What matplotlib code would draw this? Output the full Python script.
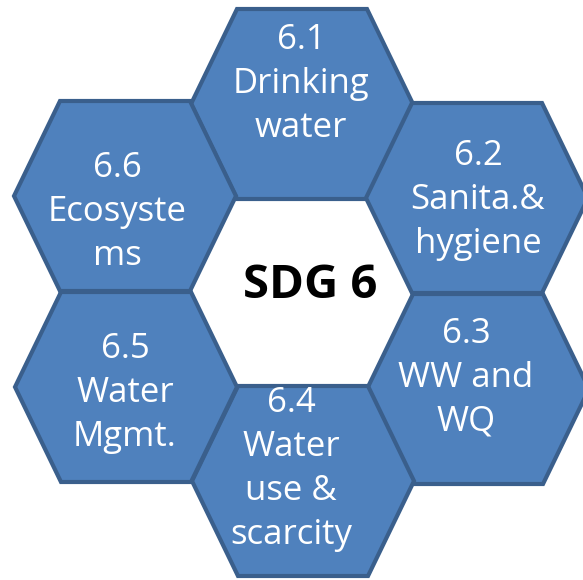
import matplotlib.pyplot as plt
from matplotlib.patches import Polygon

# Etiquetas de cada hexagono (metas del ODS 6)
codes = ['6.1', '6.2', '6.3', '6.4', '6.5', '6.6']
names = ['Drinking\nwater', 'Sanita.&\nhygiene', 'WW and\nWQ',
         'Water\nuse &\nscarcity', 'Water\nMgmt.', 'Ecosyste\nms']
center_label = 'SDG 6'

# Posicion de cada hexagono en pixeles (x, y desde arriba)
hex_centers = [(302, 104), (477, 198), (478, 389), (303, 481), (126, 387), (125, 196)]
text_centers = [(301, 84), (478, 200), (466, 378), (291, 469), (125, 393), (117, 212)]

fill_color = '#4F81BD'
edge_color = '#3A5F8C'

def hexagon(cx, cy, hw=111, ht=65, hh=95):
    return [(cx - hw, cy), (cx - ht, cy - hh), (cx + ht, cy - hh),
            (cx + hw, cy), (cx + ht, cy + hh), (cx - ht, cy + hh)]

fig = plt.figure(figsize=(5.83, 5.80), dpi=100)
ax = fig.add_axes([0, 0, 1, 1])
ax.set_xlim(0, 583)
ax.set_ylim(580, 0)
ax.axis('off')

for (cx, cy), (tx, ty), code, name in zip(hex_centers, text_centers, codes, names):
    ax.add_patch(Polygon(hexagon(cx, cy), closed=True, facecolor=fill_color,
                         edgecolor=edge_color, linewidth=3, joinstyle='miter'))
    ax.text(tx, ty, code + '\n' + name, ha='center', va='center', color='white',
            fontsize=25, family='Open Sans', linespacing=1.38)

ax.text(310, 286, center_label, ha='center', va='center', color='black',
        fontsize=34, fontweight='bold', family='Open Sans')

fig.savefig('out.png', dpi=100)
